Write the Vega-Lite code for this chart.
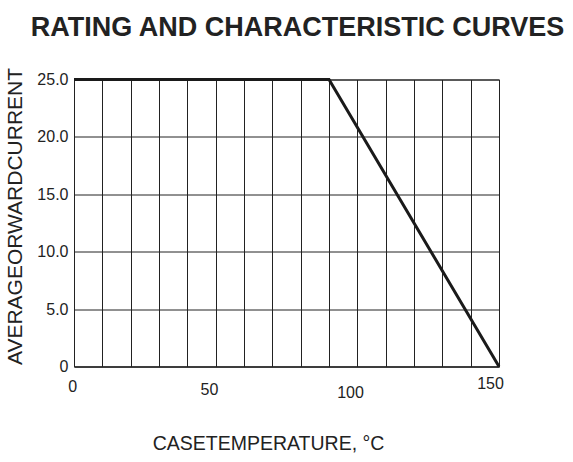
{
  "$schema": "https://vega.github.io/schema/vega-lite/v6.json",
  "width": 425,
  "height": 287,
  "autosize": "none",
  "padding": {"left": 74, "top": 79.5, "right": 74, "bottom": 95.5},
  "background": "white",
  "title": {
    "text": "RATING AND CHARACTERISTIC CURVES",
    "font": "Liberation Sans",
    "fontSize": 27,
    "fontWeight": "bold",
    "color": "#222222",
    "anchor": "middle",
    "dx": 11,
    "offset": 25
  },
  "data": {
    "values": [
      {"temp": 0, "current": 25},
      {"temp": 90, "current": 25},
      {"temp": 150, "current": 0}
    ]
  },
  "mark": {"type": "line", "color": "#1a1a1a", "strokeWidth": 3, "clip": false},
  "encoding": {
    "x": {
      "field": "temp",
      "type": "quantitative",
      "scale": {"domain": [0, 150], "nice": false, "zero": false},
      "axis": {
        "values": [0, 10, 20, 30, 40, 50, 60, 70, 80, 90, 100, 110, 120, 130, 140, 150],
        "labelExpr": "datum.value % 50 == 0 ? datum.label : ''",
        "labelOverlap": false,
        "labelFlush": false,
        "labelFont": "Liberation Sans",
        "labelFontSize": 16,
        "labelColor": "#222222",
        "labelBaseline": "middle",
        "labelOffset": {
          "condition": [
            {"test": "datum.value == 50", "value": -6.7},
            {"test": "datum.value == 100", "value": -7.3},
            {"test": "datum.value == 150", "value": -9}
          ],
          "value": -1.7
        },
        "labelPadding": {
          "condition": [
            {"test": "datum.value == 50", "value": 22.5},
            {"test": "datum.value == 100", "value": 25.5},
            {"test": "datum.value == 150", "value": 16.5}
          ],
          "value": 20
        },
        "ticks": false,
        "grid": true,
        "gridColor": "#222222",
        "gridWidth": 1,
        "gridOpacity": 1,
        "domainColor": "#222222",
        "title": "CASETEMPERATURE, °C",
        "titleFont": "Liberation Sans",
        "titleFontSize": 19.5,
        "titleFontWeight": "normal",
        "titleColor": "#222222",
        "titleX": 194,
        "titleY": 76.5,
        "titleBaseline": "middle"
      }
    },
    "y": {
      "field": "current",
      "type": "quantitative",
      "scale": {"domain": [0, 25], "nice": false},
      "axis": {
        "values": [0, 5, 10, 15, 20, 25],
        "labelExpr": "datum.value == 0 ? '0' : format(datum.value, '.1f')",
        "labelFont": "Liberation Sans",
        "labelFontSize": 16,
        "labelColor": "#222222",
        "labelPadding": 6,
        "ticks": false,
        "grid": true,
        "gridColor": "#222222",
        "gridWidth": 1,
        "gridOpacity": 1,
        "domainColor": "#222222",
        "title": "AVERAGEORWARDCURRENT",
        "titleFont": "Liberation Sans",
        "titleFontSize": 21,
        "titleFontWeight": "normal",
        "titleColor": "#222222",
        "titleX": -59,
        "titleY": 136.5,
        "titleAngle": -90,
        "titleBaseline": "middle",
        "titleAlign": "center"
      }
    }
  },
  "config": {"view": {"stroke": "#222222", "strokeWidth": 1}}
}
